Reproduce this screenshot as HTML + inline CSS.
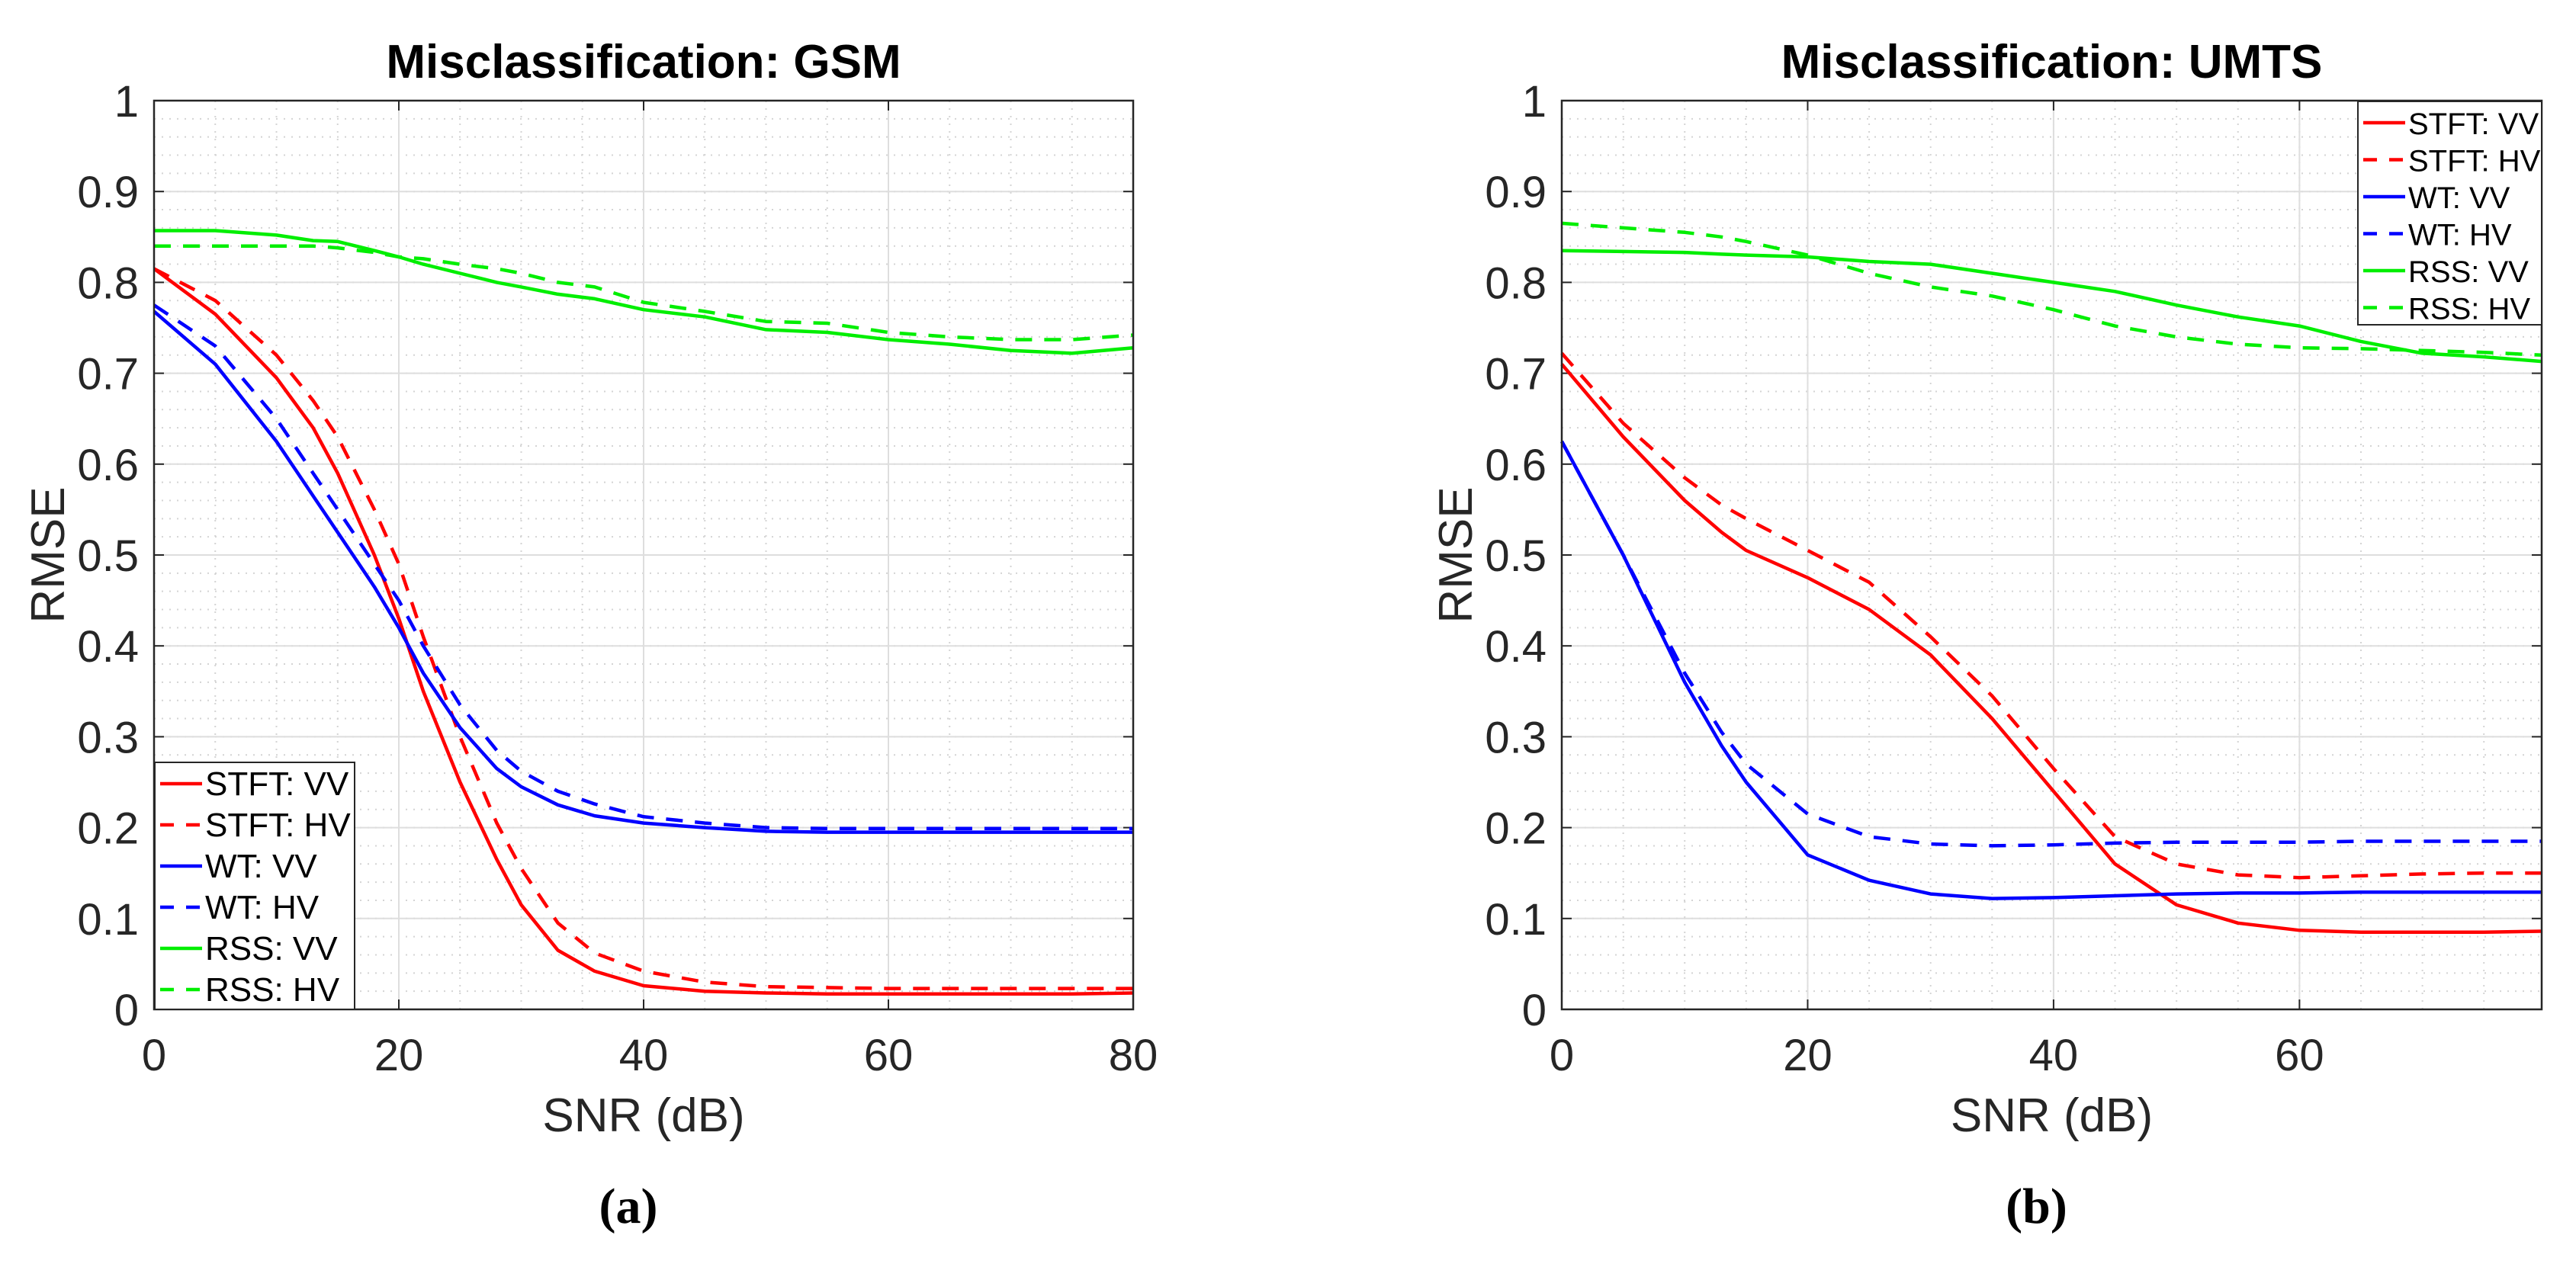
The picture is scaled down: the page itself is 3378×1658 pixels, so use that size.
<!DOCTYPE html>
<html><head><meta charset="utf-8"><style>
html,body{margin:0;padding:0;background:#fff;}
svg{display:block;font-family:"Liberation Sans",Arial,sans-serif;}
</style></head><body>
<svg id="svg" width="3378" height="1658" viewBox="0 0 3378 1658" xmlns="http://www.w3.org/2000/svg"></svg>
<script>
// ---- Data: panel (a) GSM ----
const gsmX = [0,5,10,13,15,18,20,22,25,28,30,33,36,40,45,50,55,60,65,70,75,80];
const gsmStftVV = [0.815,0.765,0.695,0.64,0.59,0.50,0.43,0.35,0.25,0.165,0.115,0.065,0.042,0.026,0.02,0.018,0.017,0.017,0.017,0.017,0.017,0.018];
const gsmStftHV = [0.815,0.78,0.72,0.67,0.63,0.55,0.49,0.41,0.30,0.205,0.155,0.095,0.062,0.042,0.03,0.025,0.024,0.023,0.023,0.023,0.023,0.023];
const gsmWtVV = [0.768,0.71,0.625,0.565,0.525,0.465,0.42,0.37,0.31,0.265,0.245,0.225,0.213,0.205,0.2,0.196,0.195,0.195,0.195,0.195,0.195,0.195];
const gsmWtHV = [0.775,0.73,0.65,0.59,0.55,0.49,0.45,0.40,0.335,0.285,0.262,0.24,0.226,0.212,0.205,0.2,0.199,0.199,0.199,0.199,0.199,0.199];
const gsmRssVV = [0.857,0.857,0.852,0.846,0.845,0.835,0.828,0.82,0.81,0.80,0.795,0.787,0.782,0.77,0.762,0.748,0.745,0.737,0.732,0.725,0.722,0.728];
const gsmRssHV = [0.84,0.84,0.84,0.84,0.838,0.833,0.828,0.826,0.82,0.815,0.81,0.8,0.795,0.778,0.768,0.757,0.755,0.745,0.74,0.737,0.737,0.742];
// ---- Data: panel (b) UMTS ----
const umtsX = [0,5,10,13,15,20,25,30,35,40,45,50,55,60,65,70,75,79.7];
const umtsStftVV = [0.71,0.63,0.56,0.525,0.505,0.475,0.44,0.39,0.32,0.24,0.16,0.115,0.095,0.087,0.085,0.085,0.085,0.086];
const umtsStftHV = [0.722,0.645,0.585,0.555,0.54,0.505,0.47,0.41,0.345,0.265,0.19,0.16,0.148,0.145,0.147,0.149,0.15,0.15];
const umtsWtVV = [0.625,0.5,0.36,0.29,0.25,0.17,0.142,0.127,0.122,0.123,0.125,0.127,0.128,0.128,0.129,0.129,0.129,0.129];
const umtsWtHV = [0.625,0.5,0.37,0.305,0.27,0.215,0.19,0.182,0.18,0.181,0.183,0.184,0.184,0.184,0.185,0.185,0.185,0.185];
const umtsRssVV = [0.835,0.834,0.833,0.831,0.83,0.828,0.823,0.82,0.81,0.80,0.79,0.775,0.762,0.752,0.735,0.722,0.718,0.713];
const umtsRssHV = [0.865,0.86,0.855,0.85,0.845,0.83,0.81,0.795,0.785,0.77,0.752,0.74,0.732,0.728,0.727,0.725,0.723,0.72];
const yTicks = [0,0.1,0.2,0.3,0.4,0.5,0.6,0.7,0.8,0.9,1];
const yTickLabels = ["0","0.1","0.2","0.3","0.4","0.5","0.6","0.7","0.8","0.9","1"];
const gsmXTicks = [0,20,40,60,80];
const umtsXTicks = [0,20,40,60];
const legendLabels = ["STFT: VV","STFT: HV","WT: VV","WT: HV","RSS: VV","RSS: HV"];

const NS="http://www.w3.org/2000/svg";
const svg=document.getElementById('svg');
function el(tag,attrs,parent){const e=document.createElementNS(NS,tag);for(const k in attrs)e.setAttribute(k,attrs[k]);(parent||svg).appendChild(e);return e;}

function panel(cfg){
  const g=el('g',{});
  
  
  const L=cfg.left,R=cfg.right,T=132,B=1324;
  const sx=v=>L+(v-0)/(cfg.xmax)*(R-L);
  const sy=v=>B-v*(B-T);
  for(let v=0;v<=cfg.xmax+1e-6;v+=5){el('line',{x1:sx(v),x2:sx(v),y1:T,y2:B,stroke:'#d4d4d4','stroke-width':2,'stroke-dasharray':'2 8'},g);}
  for(let i=0;i<=50;i++){const v=i*0.02;el('line',{x1:L,x2:R,y1:sy(v),y2:sy(v),stroke:'#d4d4d4','stroke-width':2,'stroke-dasharray':'2 8'},g);}
  cfg.xticks.forEach(v=>{const ln=el('line',{x1:sx(v),x2:sx(v),y1:T,y2:B,stroke:'#dedede','stroke-width':2},g);
    });
  yTicks.forEach(v=>{const ln=el('line',{x1:L,x2:R,y1:sy(v),y2:sy(v),stroke:'#dedede','stroke-width':2},g);
    });
  cfg.xticks.forEach(v=>{el('line',{x1:sx(v),x2:sx(v),y1:B,y2:B-13,stroke:'#262626','stroke-width':2},g);el('line',{x1:sx(v),x2:sx(v),y1:T,y2:T+13,stroke:'#262626','stroke-width':2},g);
    const t=el('text',{x:sx(v),y:1404,'text-anchor':'middle','font-size':58,fill:'#262626'},g);t.textContent=v;
    });
  yTicks.forEach((v,i)=>{el('line',{x1:L,x2:L+13,y1:sy(v),y2:sy(v),stroke:'#262626','stroke-width':2},g);el('line',{x1:R,x2:R-13,y1:sy(v),y2:sy(v),stroke:'#262626','stroke-width':2},g);
    const t=el('text',{x:L-20,y:sy(v)+21,'text-anchor':'end','font-size':58,fill:'#262626'},g);t.textContent=yTickLabels[i];
    });
  const series=[[cfg.d[0],'#ff0000',false],[cfg.d[1],'#ff0000',true],[cfg.d[2],'#0000ff',false],[cfg.d[3],'#0000ff',true],[cfg.d[4],'#00ee00',false],[cfg.d[5],'#00ee00',true]];
  const names=['stft-vv-line','stft-hv-line','wt-vv-line','wt-hv-line','rss-vv-line','rss-hv-line'];
  series.forEach((s,i)=>{
    const pts=cfg.x.map((xv,j)=>sx(xv).toFixed(1)+','+sy(s[0][j]).toFixed(1)).join(' ');
    const a={points:pts,fill:'none',stroke:s[1],'stroke-width':4.5,'stroke-linejoin':'round'};
    if(s[2])a['stroke-dasharray']='22 16';
    const p=el('polyline',a,g);
    
    
  });
  el('rect',{x:L,y:T,width:R-L,height:B-T,fill:'none',stroke:'#262626','stroke-width':2.5},g);
  const tt=el('text',{x:(L+R)/2,y:102,'text-anchor':'middle','font-size':62,'font-weight':'bold',fill:'#000'},g);tt.textContent=cfg.title;
  
  const xl=el('text',{x:(L+R)/2,y:1484,'text-anchor':'middle','font-size':62,fill:'#262626'},g);xl.textContent='SNR (dB)';
  
  const yl=el('text',{x:0,y:0,'text-anchor':'middle','font-size':62,fill:'#262626',transform:`translate(${L-118},728) rotate(-90)`},g);yl.textContent='RMSE';
  
  const cap=el('text',{x:(L+R)/2-20,y:1604,'text-anchor':'middle','font-size':66,'font-weight':'bold','font-family':'"Liberation Serif",serif',fill:'#000'},g);cap.textContent=cfg.caption;
  
  const lg=el('g',{},g);
  
  
  const lb=cfg.leg;
  el('rect',{x:lb.x,y:lb.y,width:lb.w,height:lb.h,fill:'#fff',stroke:'#262626','stroke-width':2},lg);
  legendLabels.forEach((lab,i)=>{
    const cy=lb.y+lb.r0+i*lb.dy;
    const a={x1:lb.x+7,x2:lb.x+62,y1:cy,y2:cy,stroke:series[i][1],'stroke-width':4.5};
    if(series[i][2])a['stroke-dasharray']='18 16';
    el('line',a,lg);
    const t=el('text',{x:lb.x+66,y:cy+15,'font-size':lb.fs,fill:'#000'},lg);t.textContent=lab;
    
  });
}
panel({name:'gsm-chart',left:202,right:1486,xmax:80,x:gsmX,xticks:gsmXTicks,title:'Misclassification: GSM',caption:'(a)',
  d:[gsmStftVV,gsmStftHV,gsmWtVV,gsmWtHV,gsmRssVV,gsmRssHV],leg:{x:203,y:1000,w:262,h:324,r0:28,dy:54,fs:44}});
panel({name:'umts-chart',left:2048,right:3333,xmax:79.7,x:umtsX,xticks:umtsXTicks,title:'Misclassification: UMTS',caption:'(b)',
  d:[umtsStftVV,umtsStftHV,umtsWtVV,umtsWtHV,umtsRssVV,umtsRssHV],leg:{x:3092,y:133,w:241,h:293,r0:28,dy:48.5,fs:40}});
</script>
</body></html>
